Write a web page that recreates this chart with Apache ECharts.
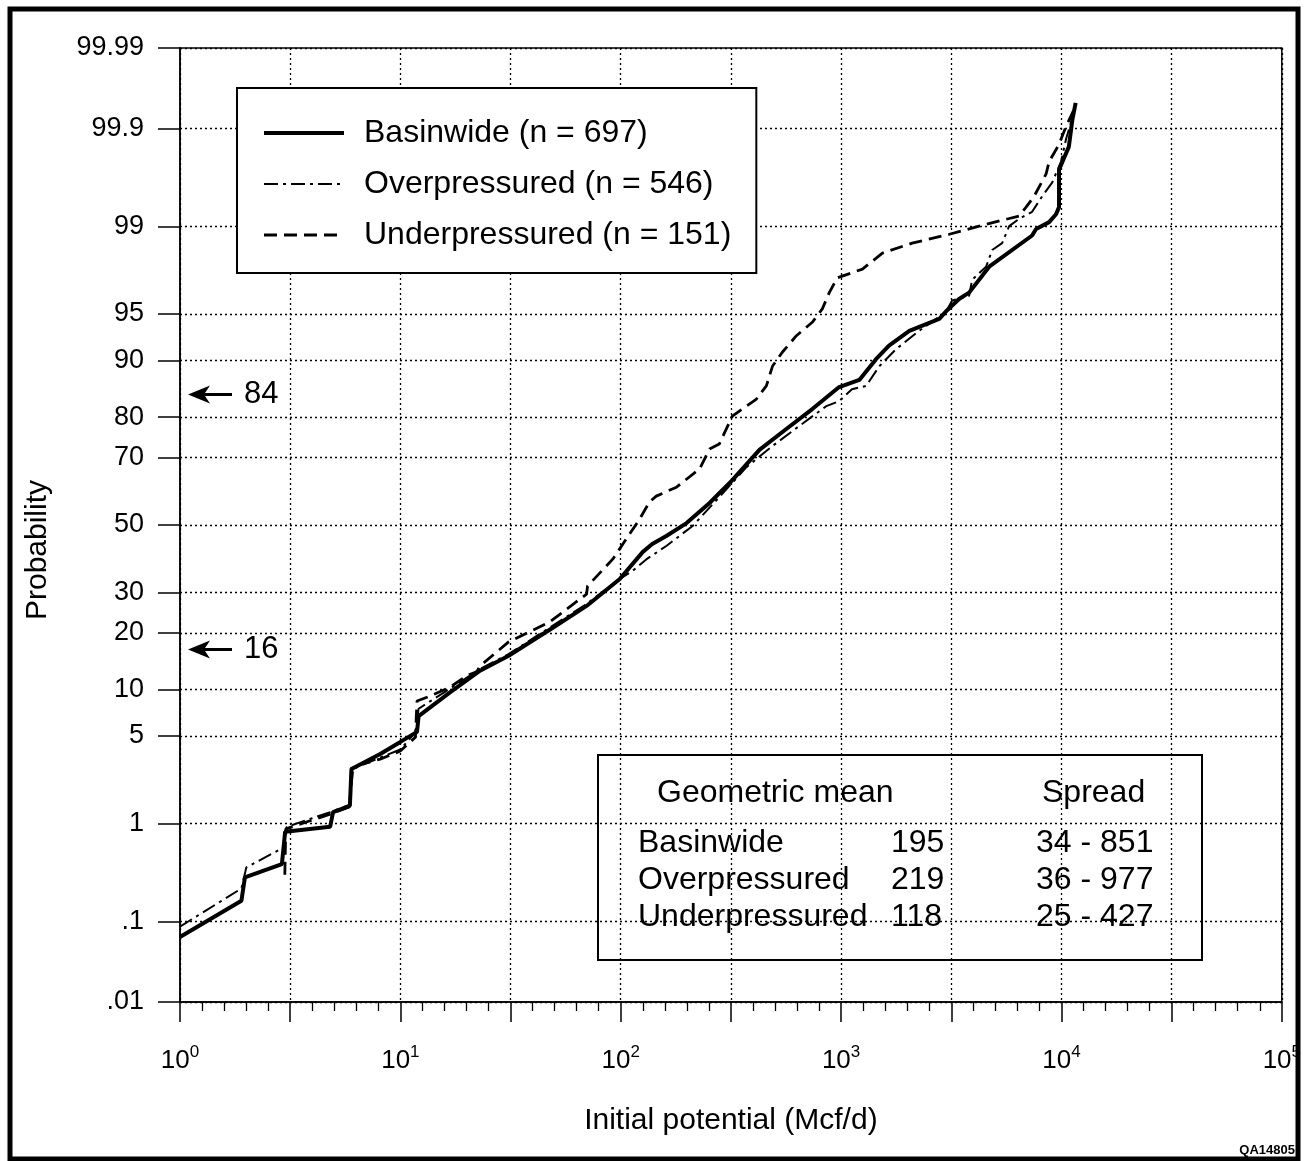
<!DOCTYPE html>
<html lang="en">
<head>
<meta charset="UTF-8" />
<title>Initial potential probability plot</title>
<style>
    * { margin: 0; padding: 0; box-sizing: border-box; }
    body { background: #fff; }
    #chart { width: 1304px; height: 1161px; }
</style>
</head>
<body>
<div id="chart"></div>
<script src="https://cdn.jsdelivr.net/npm/echarts@6/dist/echarts.min.js"></script>
<script>
// probability ticks (%) and their labels
var probTicks = [0.01, 0.1, 1, 5, 10, 20, 30, 50, 70, 80, 90, 95, 99, 99.9, 99.99];
var probLabels = ['.01', '.1', '1', '5', '10', '20', '30', '50', '70', '80', '90', '95', '99', '99.9', '99.99'];
// x axis: decades 10^0 .. 10^5
var decades = [0, 1, 2, 3, 4, 5];

// [initial potential (Mcf/d), cumulative probability %]
var basinwide = [
    [1, 0.066], [1.9, 0.17], [1.97, 0.30], [2.9, 0.41], [3.0, 0.84], [4.8, 0.93], [4.95, 1.26],
    [5.9, 1.43], [6.0, 2.86], [8.1, 3.71], [10, 4.54], [11.9, 5.34], [12.1, 6.8], [16.8, 9.6],
    [23, 12.8], [31, 15.4], [49, 21.1], [70, 26.4], [99, 33.7], [126, 41.7], [139, 44.1],
    [161, 46.6], [199, 50.6], [253, 56.8], [321, 63.7], [426, 72.1], [564, 77.3], [740, 81.7],
    [980, 85.9], [1210, 87.1], [1440, 90.2], [1650, 91.9], [2040, 93.5], [2790, 94.6],
    [3030, 95.3], [3430, 96.1], [3810, 96.5], [4700, 97.8], [7360, 98.8], [7670, 98.95],
    [8790, 99.09], [9450, 99.23], [9750, 99.34], [9750, 99.72], [10800, 99.84], [11200, 99.92],
    [11600, 99.95]
];
var overpressured = [
    [1, 0.087], [1.9, 0.23], [2.0, 0.38], [2.93, 0.59], [3.05, 0.93], [4.8, 1.26], [5.9, 1.46],
    [6.1, 2.86], [7.8, 3.4], [10, 4.0], [11.7, 5.3], [12.1, 7.6], [16.8, 10.1], [23, 13.1],
    [31, 15.7], [49, 21.6], [70, 26.9], [99, 33.7], [113, 36.0], [131, 39.5], [161, 43.5],
    [212, 49.7], [280, 58.6], [372, 67.4], [488, 73.1], [646, 78.0], [857, 82.3], [980, 83.3],
    [1120, 85.5], [1300, 86.1], [1490, 89.2], [1780, 91.5], [2260, 93.5], [2700, 94.6],
    [3000, 95.2], [3190, 96.0], [3810, 96.3], [3930, 97.2], [4550, 97.8], [4850, 98.4],
    [5380, 98.6], [5790, 99.01], [6420, 99.15], [7360, 99.27], [8170, 99.48], [9070, 99.62],
    [9960, 99.77], [10500, 99.87], [11050, 99.915], [11500, 99.94]
];
var underpressured = [
    [2.99, 0.32], [3.02, 0.89], [4.8, 1.21], [5.9, 1.40], [6.0, 2.96], [8.1, 3.4], [10, 3.9],
    [11.7, 4.9], [11.9, 8.5], [13.6, 9.1], [16.8, 10.3], [20, 12.0], [22.2, 12.6], [23, 13.6],
    [31, 18.1], [47.6, 22.5], [70, 29.5], [70.7, 31.7], [92, 39.5], [122, 51.9], [135, 57.1],
    [145, 58.9], [179, 61.6], [228, 66.9], [253, 72.3], [280, 73.6], [321, 80.2], [372, 82.3],
    [413, 83.7], [458, 86.1], [488, 89.2], [541, 91.1], [627, 93.0], [740, 94.3], [822, 95.4],
    [884, 96.5], [961, 97.3], [1250, 97.7], [1540, 98.3], [2100, 98.6], [3100, 98.83],
    [4230, 99.01], [6420, 99.2], [6910, 99.34], [7510, 99.48], [8520, 99.69], [8790, 99.77],
    [9750, 99.85], [10500, 99.906], [11400, 99.94]
];

var seriesNames = ['Basinwide (n = 697)', 'Overpressured (n = 546)', 'Underpressured (n = 151)'];

// summary table
var statNames = ['Basinwide', 'Overpressured', 'Underpressured'];
var geoMeans = [195, 219, 118];
var spreadLow = [34, 36, 25];
var spreadHigh = [851, 977, 427];

// arrows at +/- one standard deviation
var arrowMarks = [84, 16];

// inverse normal cdf (Acklam)
function probit(p) {
    var a = [-3.969683028665376e+01, 2.209460984245205e+02, -2.759285104469687e+02, 1.383577518672690e+02, -3.066479806614716e+01, 2.506628277459239e+00];
    var b = [-5.447609879822406e+01, 1.615858368580409e+02, -1.556989798598866e+02, 6.680131188771972e+01, -1.328068155288572e+01];
    var c = [-7.784894002430293e-03, -3.223964580411365e-01, -2.400758277161838e+00, -2.549732539343734e+00, 4.374664141464968e+00, 2.938163982698783e+00];
    var d = [7.784695709041462e-03, 3.224671290700398e-01, 2.445134137142996e+00, 3.754408661907416e+00];
    var pl = 0.02425, q, r;
    if (p < pl) {
        q = Math.sqrt(-2 * Math.log(p));
        return (((((c[0] * q + c[1]) * q + c[2]) * q + c[3]) * q + c[4]) * q + c[5]) / ((((d[0] * q + d[1]) * q + d[2]) * q + d[3]) * q + 1);
    }
    if (p > 1 - pl) {
        q = Math.sqrt(-2 * Math.log(1 - p));
        return -(((((c[0] * q + c[1]) * q + c[2]) * q + c[3]) * q + c[4]) * q + c[5]) / ((((d[0] * q + d[1]) * q + d[2]) * q + d[3]) * q + 1);
    }
    q = p - 0.5;
    r = q * q;
    return (((((a[0] * r + a[1]) * r + a[2]) * r + a[3]) * r + a[4]) * r + a[5]) * q / (((((b[0] * r + b[1]) * r + b[2]) * r + b[3]) * r + b[4]) * r + 1);
}
function z(pct) { return probit(pct / 100); }
function toZ(list) { return list.map(function (d) { return [d[0], z(d[1])]; }); }

var zTicks = probTicks.map(z);
var FONT = '"Liberation Sans", Arial, Helvetica, sans-serif';
var dotted = { color: '#000', width: 1.3, type: [2, 3] };

// line styles for the three curves
var lineStyles = [
    { color: '#000', width: 4, type: 'solid' },
    { color: '#000', width: 2, type: [14, 5, 3, 5] },
    { color: '#000', width: 2.8, type: [13, 7] }
];

var chart = echarts.init(document.getElementById('chart'));

var statChildren = [{
    type: 'rect',
    shape: { x: 598, y: 755, width: 604, height: 205 },
    style: { fill: '#fff', stroke: '#000', lineWidth: 2 }
}, {
    type: 'text', x: 657, y: 793,
    style: { text: 'Geometric mean', font: '32px ' + FONT, fill: '#000', verticalAlign: 'middle' }
}, {
    type: 'text', x: 1042, y: 793,
    style: { text: 'Spread', font: '32px ' + FONT, fill: '#000', verticalAlign: 'middle' }
}];
statNames.forEach(function (n, i) {
    var y = 843 + i * 37;
    statChildren.push(
        { type: 'text', x: 638, y: y, style: { text: n, font: '32px ' + FONT, fill: '#000', verticalAlign: 'middle' } },
        { type: 'text', x: 891, y: y, style: { text: String(geoMeans[i]), font: '32px ' + FONT, fill: '#000', verticalAlign: 'middle' } },
        { type: 'text', x: 1036, y: y, style: { text: spreadLow[i] + ' - ' + spreadHigh[i], font: '32px ' + FONT, fill: '#000', verticalAlign: 'middle' } }
    );
});

chart.setOption({
    animation: false,
    backgroundColor: '#fff',
    textStyle: { fontFamily: FONT, color: '#000' },
    grid: {
        left: 180, right: 21, top: 48, bottom: 159,
        show: true, borderColor: '#000', borderWidth: 1.5
    },
    legend: {
        data: seriesNames.map(function (n, i) {
            return { name: n, lineStyle: lineStyles[i] };
        }),
        orient: 'vertical',
        left: 237, top: 88,
        itemWidth: 80, itemHeight: 20, itemGap: 19,
        padding: [29, 25, 22, 25],
        borderColor: '#000', borderWidth: 2,
        backgroundColor: '#fff',
        selectedMode: false,
        itemStyle: { opacity: 0 },
        textStyle: { fontSize: 32, color: '#000', fontFamily: FONT, padding: [0, 0, 0, 15] }
    },
    xAxis: [{
        // log10 space, used for ticks and grid
        type: 'value', min: 0, max: 5, interval: 0.5, position: 'bottom',
        name: 'Initial potential (Mcf/d)', nameLocation: 'middle', nameGap: 104,
        nameTextStyle: { fontSize: 30, color: '#000', fontFamily: FONT },
        axisLine: { show: true, onZero: false, lineStyle: { color: '#000', width: 1.5 } },
        axisTick: { show: true, length: 20, lineStyle: { color: '#000', width: 1.5 } },
        minorTick: { show: true, splitNumber: 5, length: 9, lineStyle: { color: '#000', width: 1.3 } },
        splitLine: { show: true, lineStyle: dotted },
        axisLabel: {
            interval: 0, margin: 42, showMinLabel: true, showMaxLabel: true,
            formatter: function (v) {
                return decades.indexOf(v) >= 0 ? '{b|10}{s|' + v + '}' : '';
            },
            rich: {
                b: { fontSize: 26, lineHeight: 34, fontFamily: FONT, color: '#000' },
                s: { fontSize: 17, lineHeight: 17, verticalAlign: 'top', fontFamily: FONT, color: '#000' }
            }
        }
    }, {
        type: 'log', logBase: 10, min: 1, max: 100000, show: false,
        axisLine: { onZero: false }
    }],
    yAxis: {
        type: 'value', min: z(0.01), max: z(99.99),
        axisLine: { show: true, onZero: false, lineStyle: { color: '#000', width: 1.5 } },
        axisTick: { show: true, length: 22, customValues: zTicks, lineStyle: { color: '#000', width: 1.5 } },
        axisLabel: {
            customValues: zTicks, margin: 36, fontSize: 27, color: '#000', fontFamily: FONT,
            formatter: function (v) {
                for (var i = 0; i < zTicks.length; i++) {
                    if (Math.abs(zTicks[i] - v) < 1e-6) return probLabels[i];
                }
                return '';
            }
        },
        splitLine: { show: true, customValues: zTicks, lineStyle: dotted }
    },
    series: [{
        name: seriesNames[0], type: 'line', xAxisIndex: 1, z: 5,
        data: toZ(basinwide), symbol: 'none',
        lineStyle: lineStyles[0],
        itemStyle: { color: '#000' },
        markPoint: {
            silent: true,
            symbol: 'path://M0,9 L22,0 L17,7.5 L44,7.5 L44,10.5 L17,10.5 L22,18 Z',
            symbolSize: [44, 18], symbolOffset: [30, -3],
            itemStyle: { color: '#000' },
            label: {
                show: true, position: 'right', distance: 12, fontSize: 31, color: '#000', fontFamily: FONT,
                formatter: function (p) { return String(p.value); }
            },
            data: arrowMarks.map(function (m) { return { coord: [1, z(m)], value: m }; })
        }
    }, {
        name: seriesNames[1], type: 'line', xAxisIndex: 1, z: 4,
        data: toZ(overpressured), symbol: 'none',
        lineStyle: lineStyles[1],
        itemStyle: { color: '#000' }
    }, {
        name: seriesNames[2], type: 'line', xAxisIndex: 1, z: 4,
        data: toZ(underpressured), symbol: 'none',
        lineStyle: lineStyles[2],
        itemStyle: { color: '#000' }
    }],
    graphic: [{
        type: 'group', z: 100, children: statChildren
    }, {
        type: 'text', x: 38, y: 550, rotation: Math.PI / 2, z: 100,
        style: { text: 'Probability', font: '30px ' + FONT, fill: '#000', align: 'center', verticalAlign: 'middle' }
    }, {
        type: 'text', x: 1295, y: 1150, z: 100,
        style: { text: 'QA14805', font: 'bold 13px ' + FONT, fill: '#000', align: 'right', verticalAlign: 'middle' }
    }, {
        type: 'rect', z: 100,
        shape: { x: 10, y: 9, width: 1288, height: 1150 },
        style: { fill: 'none', stroke: '#000', lineWidth: 5 }
    }]
});
</script>
</body>
</html>
